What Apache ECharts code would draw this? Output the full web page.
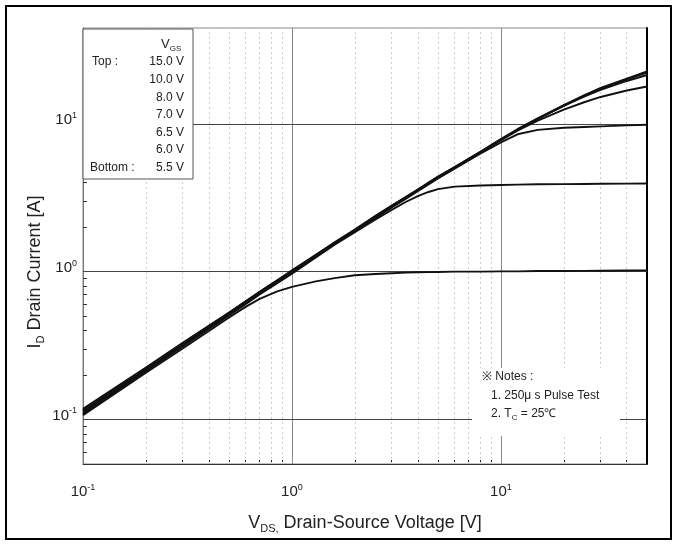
<!DOCTYPE html>
<html><head><meta charset="utf-8">
<script src="https://cdn.jsdelivr.net/npm/echarts@6/dist/echarts.min.js"></script>
<style>
html,body{margin:0;padding:0;background:#fff;}
#c{position:absolute;left:0;top:0;width:676px;height:544px;}
#frame{position:absolute;left:5px;top:5px;width:667px;height:535px;border:2px solid #000;box-sizing:border-box;pointer-events:none;}
</style></head>
<body>
<div id="c"></div><div id="frame"></div>
<script>
// Drain-source voltage sample points [V]
const vds = [0.1,0.2,0.3,0.5,0.6,0.7,0.85,1,1.3,1.6,2,2.5,3,3.5,4,4.5,5,6,8,10,12,15,20,25,30,40,50];
// Drain current [A] for each gate voltage
const id150 = [0.118,0.225,0.33,0.53,0.63,0.73,0.875,1.02,1.3,1.58,1.93,2.38,2.8,3.2,3.6,4.0,4.4,5.1,6.5,7.9,9.2,10.9,13.4,15.6,17.5,20.2,22.6];
const id100 = [0.116,0.222,0.327,0.527,0.627,0.727,0.87,1.01,1.29,1.57,1.92,2.37,2.78,3.18,3.58,3.98,4.38,5.08,6.48,7.85,9.15,10.85,13.3,15.5,17.3,20.0,22.2];
const id80  = [0.115,0.22,0.325,0.524,0.624,0.724,0.865,1.0,1.28,1.56,1.91,2.35,2.76,3.16,3.56,3.96,4.35,5.05,6.45,7.8,9.1,10.8,13.2,15.3,17.0,19.5,21.4];
const id70  = [0.113,0.218,0.322,0.52,0.62,0.72,0.86,0.995,1.27,1.55,1.9,2.33,2.74,3.14,3.54,3.93,4.32,5.02,6.4,7.75,9.0,10.5,12.5,14.0,15.2,16.8,17.9];
const id65  = [0.111,0.215,0.318,0.515,0.615,0.713,0.85,0.985,1.26,1.54,1.88,2.3,2.72,3.1,3.5,3.89,4.28,4.97,6.3,7.5,8.5,9.1,9.4,9.52,9.62,9.76,9.86];
const id60  = [0.109,0.212,0.312,0.505,0.603,0.7,0.835,0.97,1.25,1.52,1.85,2.25,2.62,2.96,3.24,3.46,3.62,3.76,3.83,3.86,3.88,3.9,3.91,3.92,3.93,3.94,3.95];
const id55  = [0.107,0.207,0.302,0.49,0.578,0.655,0.735,0.79,0.86,0.905,0.945,0.965,0.975,0.985,0.99,0.993,0.995,1.0,1.0,1.005,1.005,1.01,1.01,1.012,1.015,1.018,1.02];
const seriesData = [id150,id100,id80,id70,id65,id60,id55];
const seriesNames = ['15.0 V','10.0 V','8.0 V','7.0 V','6.5 V','6.0 V','5.5 V'];

// Axis ticks / labels
const xLabelVals = [0.1,1,10];
const yLabelVals = [0.1,1,10];
const xMinor = [0.2,0.3,0.4,0.5,0.6,0.7,0.8,0.9,2,3,4,5,6,7,8,9,20,30,40];
const yMinor = [0.06,0.07,0.08,0.09,0.2,0.3,0.4,0.5,0.6,0.7,0.8,0.9,2,3,4,5,6,7,8,9,20,30,40];
const expText = {0.1:'-1', 1:'0', 10:'1'};

// Legend / notes text
const legendHeader = 'V';
const legendHeaderSub = 'GS';
const legendTop = 'Top :';
const legendBottom = 'Bottom :';
const notes1 = '\u203B Notes :';
const notes2 = '1. 250\u03BC s Pulse Test';
const notes3a = '2. T';
const notes3sub = 'C';
const notes3b = ' = 25\u2103';

const FONT = '"Liberation Sans",Arial,sans-serif';
const chart = echarts.init(document.getElementById('c'), null, {renderer:'canvas'});

function pow10Label(v){ return '{b|10}{s|' + expText[v] + '}'; }
const labelRich = {
  b:{fontSize:15, fontFamily:FONT, color:'#222', lineHeight:18},
  s:{fontSize:9, fontFamily:FONT, color:'#222', lineHeight:10, verticalAlign:'top'}
};

const gridLines = [];
xMinor.forEach(v=>gridLines.push({xAxis:v, lineStyle:{color:'#cccccc', type:[2,3], width:1}}));
[1,10].forEach(v=>gridLines.push({xAxis:v, lineStyle:{color:'#8a8a8a', type:'solid', width:1}}));
[0.1,1,10].forEach(v=>gridLines.push({yAxis:v, lineStyle:{color:'#444', type:'solid', width:1}}));

const series = [{
  type:'line', data:[], silent:true, z:1,
  markLine:{silent:true, symbol:'none', animation:false, label:{show:false}, z:1, data:gridLines}
}];
seriesData.forEach((arr,i)=>{
  series.push({
    name:seriesNames[i], type:'line', z:3,
    data: vds.map((v,j)=>[v,arr[j]]),
    showSymbol:false, smooth:false,
    lineStyle:{color:'#111', width:1.9, join:'round'}, animation:false
  });
});

const legendRows = seriesNames.map((n,i)=>({
  type:'text', right: 676-184, top: 56 + i*17.6,
  style:{text:n, font:'12px '+FONT, fill:'#222', textAlign:'right'}, z:11
}));

chart.setOption({
  animation:false,
  grid:{left:83, top:28, right:29, bottom:80, show:true, borderColor:'#888', borderWidth:1},
  xAxis:{
    type:'log', logBase:10, min:0.1, max:50,
    name:'{m|V}{s|DS,}{m| Drain-Source Voltage [V]}', nameLocation:'middle', nameGap:48,
    nameTextStyle:{rich:{
      m:{fontSize:18, fontFamily:FONT, color:'#222', lineHeight:22},
      s:{fontSize:11, fontFamily:FONT, color:'#222', lineHeight:14, verticalAlign:'bottom'}
    }},
    axisLine:{show:true, lineStyle:{color:'#333', width:1}},
    axisTick:{show:true, inside:true, length:4, customValues:xMinor, lineStyle:{color:'#222'}},
    axisLabel:{show:true, customValues:xLabelVals, margin:19, formatter:pow10Label, rich:labelRich},
    splitLine:{show:false}, minorTick:{show:false}
  },
  yAxis:[{
    type:'log', logBase:10, min:0.05, max:44.5,
    axisLine:{show:true, lineStyle:{color:'#777', width:1}},
    axisTick:{show:true, inside:true, length:4, customValues:yMinor, lineStyle:{color:'#333'}},
    axisLabel:{show:true, customValues:yLabelVals, margin:6, padding:[0,0,8,0], formatter:pow10Label, rich:labelRich},
    splitLine:{show:false}
  },{
    type:'log', logBase:10, min:0.05, max:44.5, position:'right',
    axisLine:{show:true, lineStyle:{color:'#000', width:2}},
    axisTick:{show:false}, axisLabel:{show:false}, splitLine:{show:false}
  }],
  series: series,
  graphic:[
    {type:'rect', shape:{x:83, y:29, width:110, height:150}, style:{fill:'#fff', stroke:'#555', lineWidth:1}, z:10},
    {type:'text', left:161, top:38, style:{text:'{m|'+legendHeader+'}{s|'+legendHeaderSub+'}', rich:{
      m:{fontSize:13, fontFamily:FONT, fill:'#222', lineHeight:16},
      s:{fontSize:8, fontFamily:FONT, fill:'#222', lineHeight:10, verticalAlign:'bottom'}}}, z:11},
    {type:'text', left:92, top:56, style:{text:legendTop, font:'12px '+FONT, fill:'#222'}, z:11},
    {type:'text', left:90, top:56+6*17.6, style:{text:legendBottom, font:'12px '+FONT, fill:'#222'}, z:11},
    ...legendRows,
    {type:'rect', shape:{x:472, y:368, width:148, height:68}, style:{fill:'#fff'}, z:10},
    {type:'text', left:482, top:371, style:{text:notes1, font:'12px '+FONT, fill:'#222'}, z:11},
    {type:'text', left:491, top:390, style:{text:notes2, font:'12px '+FONT, fill:'#222'}, z:11},
    {type:'text', left:491, top:408, style:{text:'{m|'+notes3a+'}{s|'+notes3sub+'}{m|'+notes3b+'}', rich:{
      m:{fontSize:12, fontFamily:FONT, fill:'#222', lineHeight:15},
      s:{fontSize:8, fontFamily:FONT, fill:'#222', lineHeight:9, verticalAlign:'bottom'}}}, z:11},
    {type:'text', x:35, y:272, rotation:Math.PI/2, style:{text:'{m|I}{s|D}{m| Drain Current [A]}', align:'center', verticalAlign:'middle', rich:{
      m:{fontSize:18, fontFamily:FONT, fill:'#222', lineHeight:22},
      s:{fontSize:11, fontFamily:FONT, fill:'#222', lineHeight:14, verticalAlign:'bottom'}}}, z:11}
  ]
});
</script>
</body></html>
